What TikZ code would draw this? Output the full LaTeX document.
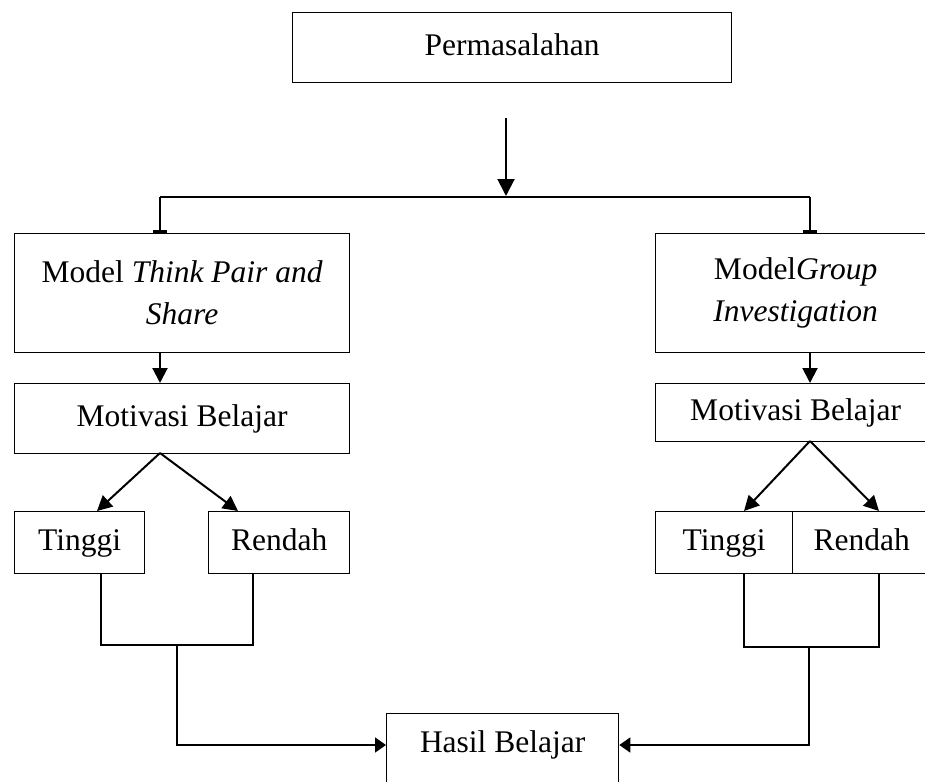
\documentclass[tikz,border=0pt]{standalone}
\usepackage{fontspec}
\setmainfont{Liberation Serif}
\usetikzlibrary{arrows.meta}
\begin{document}
\begin{tikzpicture}[x=1pt,y=-1pt,
  font=\fontsize{31.5}{42}\selectfont,
  box/.style={draw, line width=1.3pt, inner sep=0pt, anchor=north west, align=center},
  one/.style={text height=22pt, text depth=7pt},
  arr/.style={line width=2pt, -{Triangle[length=15pt,width=15pt]}},
  tee/.style={line width=2pt, -{Rectangle[length=3pt,width=14pt]}},
  link/.style={line width=1.5pt},
  harr/.style={line width=1.7pt, -{Triangle[length=11pt,width=15pt]}}]
\useasboundingbox (0,0) rectangle (925,781);
\clip (0,0) rectangle (925,781);
% boxes
\node[box, one, minimum width=439pt, minimum height=70pt] (top) at (292,12) {Permasalahan};
\node[box, minimum width=335pt, minimum height=119pt] (m1) at (14,233) {Model \textit{Think Pair and}\\\textit{Share}};
\node[box, minimum width=280pt, minimum height=119pt] (m2) at (655,233) {Model\textit{Group}\\\textit{Investigation}};
\node[box, one, minimum width=335pt, minimum height=70pt] (mb1) at (14,383) {Motivasi Belajar};
\node[box, one, minimum width=280pt, minimum height=58pt] (mb2) at (655,383) {Motivasi Belajar};
\node[box, one, minimum width=130pt, minimum height=62pt] (t1) at (14,511) {Tinggi};
\node[box, one, minimum width=141pt, minimum height=62pt] (r1) at (208,511) {Rendah};
\node[box, one, minimum width=137pt, minimum height=62pt] (t2) at (655,511) {Tinggi};
\node[box, one, minimum width=138pt, minimum height=62pt] (r2) at (792,511) {Rendah};
\node[box, text height=22pt, text depth=24pt, minimum width=232pt, minimum height=80pt] (h) at (386,713) {Hasil Belajar};
% coordinates
\coordinate (a0) at (506,118);
\coordinate (a1) at (506,196);
\coordinate (j1) at (160,197);
\coordinate (j2) at (810,197);
\coordinate (d1) at (160,453);
\coordinate (d2) at (810,441);
\coordinate (tl1) at (97,511);
\coordinate (tr1) at (238,511);
\coordinate (tl2) at (744,511);
\coordinate (tr2) at (879,511);
\coordinate (cl1) at (101,645);
\coordinate (cl2) at (253,645);
\coordinate (cl3) at (177,645);
\coordinate (cl4) at (177,745);
\coordinate (cr1) at (744,647);
\coordinate (cr2) at (879,647);
\coordinate (cr3) at (809,647);
\coordinate (cr4) at (809,745);
% connectors
\draw[arr, -{Triangle[length=17pt,width=17pt]}] (a0) -- (a1);
\draw[line width=2pt] (j1) -- (j2);
\draw[tee] (j1) -- (j1 |- m1.north);
\draw[tee] (j2) -- (j2 |- m2.north);
\draw[arr] (j1 |- m1.south) -- (j1 |- mb1.north);
\draw[arr] (j2 |- m2.south) -- (j2 |- mb2.north);
\draw[arr] (d1) -- (tl1);
\draw[arr] (d1) -- (tr1);
\draw[arr] (d2) -- (tl2);
\draw[arr] (d2) -- (tr2);
\draw[link] (t1.south -| cl1) -- (cl1) -- (cl2) -- (r1.south -| cl2);
\draw[link] (t2.south -| cr1) -- (cr1) -- (cr2) -- (r2.south -| cr2);
\draw[harr] (cl3) -- (cl4) -- (h.west |- cl4);
\draw[harr] (cr3) -- (cr4) -- (h.east |- cr4);
\end{tikzpicture}
\end{document}
